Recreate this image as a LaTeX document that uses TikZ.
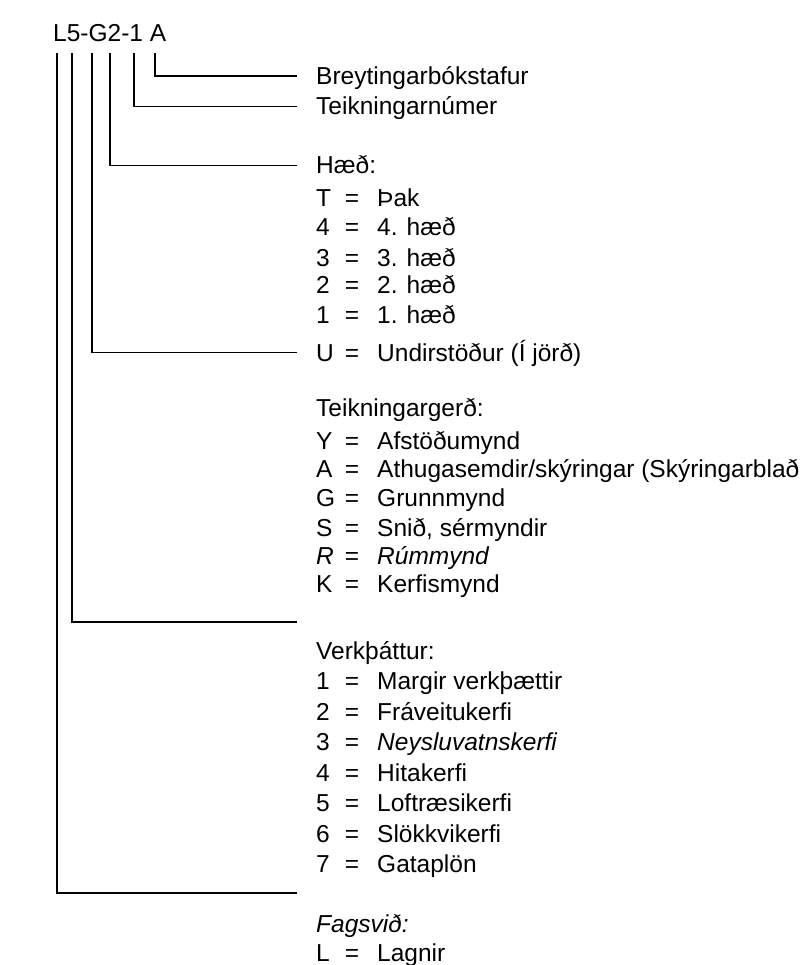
\documentclass[tikz,border=0pt]{standalone}
\usepackage{fontspec}
\setmainfont{Liberation Sans}
\begin{document}
\begin{tikzpicture}[x=1pt,y=-1pt,
  txt/.style={anchor=base west,inner sep=0pt,font=\fontsize{24.5}{29}\selectfont},
  keytxt/.style={txt},
  eqtxt/.style={anchor=base,inner sep=0pt,font=\fontsize{24.5}{29}\selectfont},
  conn/.style={line width=1.3pt,line cap=butt}]
\fill[white] (0,0) rectangle (804,965);
\useasboundingbox (0,0) rectangle (804,965);
\newcommand\myentry[4]{%
  \node[keytxt] (#1k) at (316,#2) {#3};
  \node[eqtxt] (#1e) at (352,#2) {=};
  \node[txt] (#1d) at (377,#2) {#4};}
% title
\node[txt] (title) at (53,42) {L5-G2-1 A};
% labels
\node[txt] (brey) at (316,85) {Breytingarbókstafur};
\node[txt] (teikn) at (316,115) {Teikningarnúmer};
\node[txt] (haed) at (316,174) {Hæð:};
\myentry{hT}{207}{T}{Þak}
\myentry{h4}{236}{4}{4. hæð}
\myentry{h3}{266}{3}{3. hæð}
\myentry{h2}{294}{2}{2. hæð}
\myentry{h1}{323}{1}{1. hæð}
\myentry{hU}{361}{U}{Undirstöður (Í jörð)}
\node[txt] (tger) at (316,416) {Teikningargerð:};
\myentry{gY}{449}{Y}{Afstöðumynd}
\myentry{gA}{477}{A}{Athugasemdir/skýringar (Skýringarblað}
\myentry{gG}{506}{G}{Grunnmynd}
\myentry{gS}{536}{S}{Snið, sérmyndir}
\myentry{gR}{564}{\itshape R}{\itshape Rúmmynd}
\myentry{gK}{592}{K}{Kerfismynd}
\node[txt] (verk) at (316,659) {Verkþáttur:};
\myentry{v1}{689}{1}{Margir verkþættir}
\myentry{v2}{720}{2}{Fráveitukerfi}
\myentry{v3}{750}{3}{\itshape Neysluvatnskerfi}
\myentry{v4}{781}{4}{Hitakerfi}
\myentry{v5}{811}{5}{Loftræsikerfi}
\myentry{v6}{842}{6}{Slökkvikerfi}
\myentry{v7}{872}{7}{Gataplön}
\node[txt] (fag) at (316,932) {\itshape Fagsvið:};
\myentry{fL}{961}{L}{Lagnir}
% connector tops and ends
\coordinate (t1) at (57,53);
\coordinate (t2) at (72,53);
\coordinate (t3) at (92,53);
\coordinate (t4) at (110,53);
\coordinate (t5) at (134,53);
\coordinate (t6) at (155,53);
\coordinate (e1) at (297,893);
\coordinate (e2) at (297,622);
\coordinate (e3) at (297,352.5);
\coordinate (e4) at (297,165.5);
\coordinate (e5) at (297,106.5);
\coordinate (e6) at (297,76);
\draw[conn] (t1) |- (e1);
\draw[conn] (t2) |- (e2);
\draw[conn] (t3) |- (e3);
\draw[conn] (t4) |- (e4);
\draw[conn] (t5) |- (e5);
\draw[conn] (t6) |- (e6);
\end{tikzpicture}
\end{document}
